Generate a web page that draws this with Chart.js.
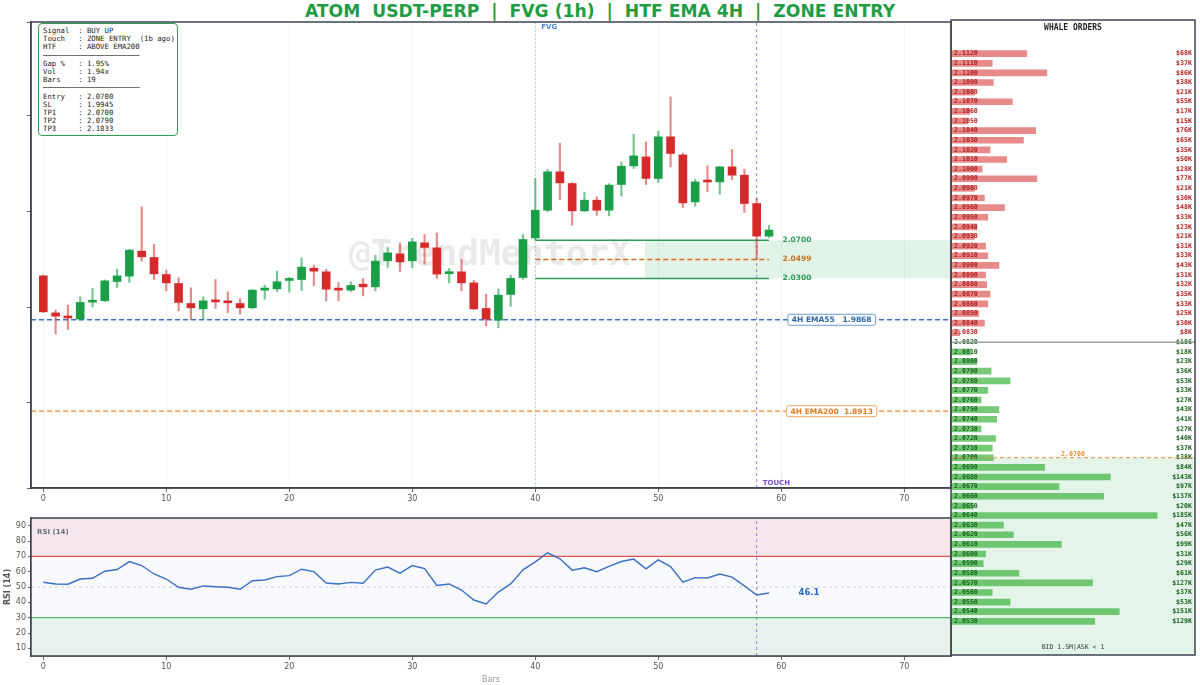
<!DOCTYPE html>
<html>
<head>
<meta charset="utf-8">
<script src="https://cdn.jsdelivr.net/npm/chart.js@4.4.1/dist/chart.umd.min.js"></script>
<style>
  body { margin: 0; background: #fff; width: 1200px; height: 685px; position: relative; overflow: hidden; font-family: "DejaVu Sans", sans-serif; }
  canvas { position: absolute; }
  #title { position: absolute; top: 1px; left: 0; width: 1200px; text-align: center; font-weight: bold; font-size: 17.2px; color: #1f9d45; white-space: pre; }
  #info { position: absolute; left: 38px; top: 23px; width: 140px; height: 113px; box-sizing: border-box; border: 1.3px solid #2e9e52; border-radius: 4px; background: #fff;
          font: 7.3px/8.2px "DejaVu Sans Mono", monospace; color: #222; padding: 3px 0 0 4px; white-space: pre; margin: 0; }
</style>
</head>
<body>
<div id="title">ATOM  USDT-PERP  |  FVG (1h)  |  HTF EMA 4H  |  ZONE ENTRY</div>
<canvas id="main" width="952" height="508" style="left:0;top:0"></canvas>
<canvas id="rsi" width="952" height="185" style="left:0;top:500px"></canvas>
<canvas id="whale" width="247" height="640" style="left:950px;top:18px"></canvas>
<pre id="info">Signal  : BUY UP
Touch   : ZONE ENTRY  (1b ago)
HTF     : ABOVE EMA200
──────────────────────
Gap %   : 1.95%
Vol     : 1.94x
Bars    : 19
──────────────────────
Entry   : 2.0700
SL      : 1.9945
TP1     : 2.0700
TP2     : 2.0790
TP3     : 2.1833</pre>
<script>
// ─── Candles (1h) ─────────────────────────────────────────────────────────────
const opens = [2.0327,1.9940,1.9899,1.9875,2.0052,2.0068,2.0268,2.0324,2.0585,2.0519,
  2.0341,2.0247,2.0038,1.9982,2.0073,2.0062,2.0038,1.9993,2.0178,2.0191,
  2.0279,2.0289,2.0407,2.0369,2.0188,2.0178,2.0240,2.0212,2.0484,2.0557,
  2.0484,2.0672,2.0620,2.0350,2.0369,2.0254,1.9986,1.9864,2.0133,2.0310,
  2.0724,2.1013,2.1414,2.1292,2.1006,2.1118,2.1013,2.1282,2.1476,2.1570,
  2.1345,2.1780,2.1591,2.1100,2.1318,2.1309,2.1466,2.1379,2.1083,2.0742];
const highs = [2.0335,1.9969,2.0021,2.0108,2.0195,2.0285,2.0397,2.0606,2.1048,2.0655,
  2.0387,2.0306,2.0202,2.0108,2.0289,2.0160,2.0091,2.0185,2.0230,2.0376,
  2.0310,2.0515,2.0439,2.0397,2.0258,2.0265,2.0300,2.0543,2.0624,2.0672,
  2.0718,2.0759,2.0776,2.0404,2.0498,2.0282,2.0136,2.0191,2.0334,2.0759,
  2.1345,2.1439,2.1713,2.1300,2.1202,2.1153,2.1290,2.1518,2.1808,2.1728,
  2.1839,2.2197,2.1610,2.1334,2.1476,2.1470,2.1648,2.1442,2.1136,2.0857];
const lows = [1.9945,1.9718,1.9767,1.9864,2.0003,2.0058,2.0206,2.0258,2.0481,2.0289,
  2.0170,1.9961,1.9871,1.9871,1.9986,1.9940,1.9927,1.9985,2.0083,2.0163,
  2.0157,2.0174,2.0227,2.0066,2.0066,2.0163,2.0118,2.0170,2.0415,2.0369,
  2.0411,2.0449,2.0300,2.0254,2.0170,1.9975,1.9805,1.9784,2.0010,2.0290,
  2.0700,2.0996,2.1125,2.0857,2.1000,2.0961,2.0954,2.1160,2.1449,2.1282,
  2.1303,2.1466,2.1041,2.1055,2.1205,2.1181,2.1334,2.0989,2.0499,2.0728];
const closes = [1.9951,1.9906,1.9887,2.0049,2.0070,2.0275,2.0327,2.0596,2.0526,2.0348,
  2.0254,2.0049,1.9993,2.0066,2.0055,2.0045,1.9993,2.0178,2.0191,2.0265,
  2.0292,2.0418,2.0376,2.0188,2.0178,2.0227,2.0212,2.0481,2.0567,2.0473,
  2.0682,2.0624,2.0345,2.0362,2.0254,1.9982,1.9875,2.0125,2.0300,2.0707,
  2.1013,2.1414,2.1299,2.1006,2.1118,2.1013,2.1275,2.1473,2.1581,2.1345,
  2.1780,2.1606,2.1090,2.1309,2.1308,2.1466,2.1379,2.1083,2.0742,2.0805];

// RSI(14) per bar
const rsi = [53.1,52.0,51.8,55.2,55.7,60.3,61.4,66.6,64.0,58.5,
  55.2,49.8,48.5,50.7,50.2,49.8,48.5,54.1,54.6,56.8,
  57.4,61.6,60.0,52.6,52.0,53.0,52.5,61.0,63.0,59.0,
  64.0,62.0,51.0,52.0,48.0,41.5,38.9,46.7,52.0,61.2,
  66.4,72.3,68.4,61.0,62.5,60.0,63.5,66.6,68.2,61.8,
  67.7,63.3,53.1,56.1,55.9,58.5,56.4,50.7,44.8,46.1];

// Levels
const ZONE_TOP = 2.0700, ZONE_MID = 2.0499, ZONE_BOT = 2.0300;
const EMA55 = 1.9868, EMA200 = 1.8913;
const FVG_BAR = 40, TOUCH_BAR = 58, ZONE_END_BAR = 59, ZONE_FILL_FROM = 48.9;
const X_MIN = -1, X_MAX = 73.8, Y_MIN = 1.811, Y_MAX = 2.298;
const X_TICKS = [0, 10, 20, 30, 40, 50, 60, 70];

// Whale order book (price, $K)
const askPrices = [2.1120,2.1110,2.1100,2.1090,2.1080,2.1070,2.1060,2.1050,2.1040,2.1030,
  2.1020,2.1010,2.1000,2.0990,2.0980,2.0970,2.0960,2.0950,2.0940,2.0930,
  2.0920,2.0910,2.0900,2.0890,2.0880,2.0870,2.0860,2.0850,2.0840,2.0830];
const askVals = [68,37,86,38,21,55,17,15,76,65,35,50,28,77,21,30,48,33,23,21,31,33,43,31,32,35,33,25,30,8];
const bidPrices = [2.0820,2.0810,2.0800,2.0790,2.0780,2.0770,2.0760,2.0750,2.0740,2.0730,
  2.0720,2.0710,2.0700,2.0690,2.0680,2.0670,2.0660,2.0650,2.0640,2.0630,
  2.0620,2.0610,2.0600,2.0590,2.0580,2.0570,2.0560,2.0550,2.0540,2.0530];
const bidVals = [0.186,18,23,36,53,33,27,43,41,27,40,37,38,84,143,97,137,20,185,47,56,99,31,29,61,127,37,53,151,129];
const MID_PRICE = 2.0820;

const GREEN = '#1b9e48', RED = '#d62a2a';
const FRAME = '#3d4450';
const MONO = '"DejaVu Sans Mono", monospace';
const SANS = '"DejaVu Sans", sans-serif';

const bars = opens.map((_, i) => i);
const isUp = i => closes[i] >= opens[i];

// ─── Shared helpers ───────────────────────────────────────────────────────────
function hLine(y, x0, x1, color, width, dash, order) {
  return { type: 'line', data: [{ x: x0, y }, { x: x1, y }], borderColor: color, borderWidth: width,
    borderDash: dash || [], pointRadius: 0, fill: false, order: order ?? 5 };
}
function vLine(x, y0, y1, color, width, dash, order) {
  return { type: 'line', data: [{ x, y: y0 }, { x, y: y1 }], borderColor: color, borderWidth: width,
    borderDash: dash || [], pointRadius: 0, fill: false, order: order ?? 5 };
}
const framePlugin = {
  id: 'frame',
  afterDraw(c) {
    const a = c.chartArea, ctx = c.ctx;
    ctx.save();
    ctx.strokeStyle = FRAME; ctx.lineWidth = 1.5;
    ctx.strokeRect(a.left, a.top, a.right - a.left, a.bottom - a.top);
    ctx.restore();
  }
};
function xScaleOpts(extra) {
  return Object.assign({
    type: 'linear', min: X_MIN, max: X_MAX, offset: false,
    afterBuildTicks: s => { s.ticks = X_TICKS.map(v => ({ value: v })); },
    ticks: { color: '#555', font: { size: 8, family: SANS }, maxRotation: 0, padding: 2 },
    grid: { offset: false, color: 'rgba(120,140,170,0.10)', tickLength: 4, tickColor: '#666' },
    border: { color: FRAME, width: 1.5 }
  }, extra);
}

// ─── Main price chart ─────────────────────────────────────────────────────────
const mainLabels = {
  id: 'mainLabels',
  beforeDatasetsDraw(c) {
    const { x, y } = c.scales, ctx = c.ctx;
    ctx.save();
    ctx.font = 'bold 36px ' + MONO;
    ctx.fillStyle = 'rgba(0,0,0,0.085)';
    ctx.textAlign = 'center'; ctx.textBaseline = 'middle';
    ctx.fillText('@TrendMentorX', x.getPixelForValue(36.3), y.getPixelForValue(2.0543));
    ctx.restore();
  },
  afterDatasetsDraw(c) {
    const { x, y } = c.scales, ctx = c.ctx;
    ctx.save();
    ctx.textBaseline = 'middle';
    ctx.font = 'bold 7.5px ' + SANS;
    const lx = x.getPixelForValue(ZONE_END_BAR + 1.1);
    ctx.fillStyle = '#2a9d55'; ctx.fillText(ZONE_TOP.toFixed(4), lx, y.getPixelForValue(ZONE_TOP));
    ctx.fillStyle = '#c8701c'; ctx.fillText(ZONE_MID.toFixed(4), lx, y.getPixelForValue(ZONE_MID));
    ctx.fillStyle = '#2a9d55'; ctx.fillText(ZONE_BOT.toFixed(4), lx, y.getPixelForValue(ZONE_BOT));

    // EMA boxes
    [[`4H EMA55   ${EMA55.toFixed(4)}`, EMA55, '#2d63a8', '#6a9ad6'],
     [`4H EMA200  ${EMA200.toFixed(4)}`, EMA200, '#e07b20', '#f0a866']].forEach(([t, v, col, bd]) => {
      ctx.font = 'bold 7.5px ' + SANS;
      const w = ctx.measureText(t).width + 8, h = 11;
      const cx = x.getPixelForValue(64.1), cy = y.getPixelForValue(v);
      ctx.fillStyle = '#fff'; ctx.strokeStyle = bd; ctx.lineWidth = 1;
      ctx.beginPath(); ctx.roundRect(cx - w / 2, cy - h / 2, w, h, 2); ctx.fill(); ctx.stroke();
      ctx.fillStyle = col; ctx.textAlign = 'center';
      ctx.fillText(t, cx, cy + 0.5);
      ctx.textAlign = 'left';
    });

    ctx.font = 'bold 7px ' + SANS;
    ctx.fillStyle = '#4a86d8';
    ctx.fillText('FVG', x.getPixelForValue(FVG_BAR) + 6, c.chartArea.top + 5);
    ctx.fillStyle = '#7b4fc9';
    ctx.fillText('TOUCH', x.getPixelForValue(TOUCH_BAR) + 6, c.chartArea.bottom - 5);
    ctx.restore();
  }
};

new Chart(document.getElementById('main'), {
  type: 'bar',
  data: {
    datasets: [
      { type: 'line', data: [{ x: ZONE_FILL_FROM, y: ZONE_TOP }, { x: X_MAX, y: ZONE_TOP }],
        fill: { value: ZONE_BOT }, backgroundColor: 'rgba(46,170,80,0.14)', borderWidth: 0, pointRadius: 0, order: 9 },
      vLine(FVG_BAR, Y_MIN, Y_MAX, 'rgba(120,170,225,0.55)', 1, [2, 2], 8),
      hLine(EMA55, X_MIN, X_MAX, '#3d74b8', 1.4, [5, 3], 6),
      hLine(EMA200, X_MIN, X_MAX, '#ee8a2e', 1.4, [5, 3], 6),
      hLine(ZONE_TOP, FVG_BAR, ZONE_END_BAR, '#2a9d55', 1.5, null, 4),
      hLine(ZONE_MID, FVG_BAR, ZONE_END_BAR, '#d0701e', 1.5, [5, 3], 4),
      hLine(ZONE_BOT, FVG_BAR, ZONE_END_BAR, '#2a9d55', 1.5, null, 4),
      vLine(TOUCH_BAR, Y_MIN, Y_MAX, 'rgba(130,100,210,0.8)', 1, [3, 3], 3),
      { label: 'wick', data: bars.map(i => ({ x: i, y: [lows[i], highs[i]] })),
        backgroundColor: bars.map(i => isUp(i) ? 'rgba(27,158,72,0.6)' : 'rgba(214,42,42,0.55)'),
        barThickness: 1.5, grouped: false, order: 2 },
      { label: 'body', data: bars.map(i => ({ x: i, y: [Math.min(opens[i], closes[i]), Math.max(opens[i], closes[i])] })),
        backgroundColor: bars.map(i => isUp(i) ? GREEN : RED),
        barThickness: 8, minBarLength: 2, grouped: false, order: 1 }
    ]
  },
  options: {
    animation: false, responsive: false,
    layout: { padding: { top: 22, right: 1, left: 0, bottom: 0 } },
    plugins: { legend: { display: false }, tooltip: { enabled: false } },
    scales: {
      x: xScaleOpts({ afterFit: s => { s.height = 20; } }),
      y: { min: Y_MIN, max: Y_MAX,
        ticks: { stepSize: 0.1, callback: () => '', padding: 0 },
        grid: { drawOnChartArea: false, tickLength: 4, tickColor: '#666' },
        border: { color: FRAME, width: 1.5 },
        afterFit: s => { s.width = 31; } }
    }
  },
  plugins: [mainLabels, framePlugin]
});

// ─── RSI panel ────────────────────────────────────────────────────────────────
const rsiBands = {
  id: 'rsiBands',
  beforeDatasetsDraw(c) {
    const { y } = c.scales, a = c.chartArea, ctx = c.ctx;
    const band = (v0, v1, col) => {
      const t = y.getPixelForValue(v1), b = y.getPixelForValue(v0);
      ctx.fillStyle = col; ctx.fillRect(a.left, t, a.right - a.left, b - t);
    };
    ctx.save();
    band(70, 95, '#f5e7eb');
    band(30, 70, '#f7f9fc');
    band(5, 30, '#e8f2ed');
    ctx.restore();
  },
  afterDatasetsDraw(c) {
    const { x, y } = c.scales, ctx = c.ctx, a = c.chartArea;
    ctx.save();
    ctx.font = 'bold 7px ' + SANS; ctx.fillStyle = '#6a7080'; ctx.textBaseline = 'middle';
    ctx.fillText('RSI (14)', a.left + 6, a.top + 14);
    const last = rsi.length - 1;
    ctx.font = 'bold 8.5px ' + SANS; ctx.fillStyle = '#2a66c8';
    ctx.fillText(rsi[last].toFixed(1), x.getPixelForValue(last + 2.4), y.getPixelForValue(rsi[last]));
    ctx.restore();
  }
};

new Chart(document.getElementById('rsi'), {
  type: 'line',
  data: {
    datasets: [
      hLine(70, X_MIN, X_MAX, '#d9534f', 1.2, null, 5),
      hLine(30, X_MIN, X_MAX, '#4cbb6c', 1.2, null, 5),
      hLine(50, X_MIN, X_MAX, 'rgba(150,150,160,0.5)', 0.8, [3, 3], 5),
      vLine(TOUCH_BAR, 5, 95, 'rgba(130,100,210,0.8)', 1, [3, 3], 4),
      { data: bars.map(i => ({ x: i, y: rsi[i] })), borderColor: '#3b6fc6', borderWidth: 1.4,
        pointRadius: 0, tension: 0, fill: false, order: 1 }
    ]
  },
  options: {
    animation: false, responsive: false,
    layout: { padding: { top: 18, right: 1, left: 0, bottom: 0 } },
    plugins: { legend: { display: false }, tooltip: { enabled: false } },
    scales: {
      x: xScaleOpts({ title: { display: true, text: 'Bars', color: '#999', font: { size: 8, family: SANS }, padding: 0 },
        afterFit: s => { s.height = 29; } }),
      y: { min: 5, max: 95,
        afterBuildTicks: s => { s.ticks = [10, 20, 30, 40, 50, 60, 70, 80, 90].map(v => ({ value: v })); },
        ticks: { color: '#555', font: { size: 8, family: SANS }, padding: 2 },
        title: { display: true, text: 'RSI (14)', color: '#555', font: { size: 8, weight: 'bold', family: SANS }, padding: { top: 3, bottom: 0 } },
        grid: { drawOnChartArea: false, tickLength: 3, tickColor: '#666' },
        border: { color: FRAME, width: 1.5 },
        afterFit: s => { s.width = 31; } }
    }
  },
  plugins: [rsiBands, framePlugin]
});

// ─── Whale orders ─────────────────────────────────────────────────────────────
const fmtK = v => v >= 1 ? `$${Math.round(v)}K` : `$${Math.round(v * 1000)}`;
const whaleText = {
  id: 'whaleText',
  beforeDatasetsDraw(c) {
    const { y } = c.scales, a = c.chartArea, ctx = c.ctx;
    ctx.save();
    const t = Math.max(a.top, y.getPixelForValue(ZONE_TOP));
    const b = Math.min(a.bottom, y.getPixelForValue(ZONE_BOT));
    ctx.fillStyle = 'rgba(46,170,80,0.13)';
    ctx.fillRect(a.left, t, a.right - a.left, b - t);
    ctx.restore();
  },
  afterDatasetsDraw(c) {
    const { y } = c.scales, a = c.chartArea, ctx = c.ctx;
    ctx.save();
    ctx.textBaseline = 'middle';
    ctx.font = 'bold 6.6px ' + MONO;
    askPrices.forEach((p, i) => {
      const py = y.getPixelForValue(p);
      ctx.fillStyle = '#b01c1c';
      ctx.textAlign = 'left'; ctx.fillText(p.toFixed(4), a.left + 3, py);
      ctx.textAlign = 'right'; ctx.fillText(fmtK(askVals[i]), a.right - 3, py);
    });
    bidPrices.forEach((p, i) => {
      const py = y.getPixelForValue(p);
      ctx.fillStyle = '#17601f';
      ctx.textAlign = 'left'; ctx.fillText(p.toFixed(4), a.left + 3, py);
      ctx.textAlign = 'right'; ctx.fillText(fmtK(bidVals[i]), a.right - 3, py);
    });
    // mid price
    const my = y.getPixelForValue(MID_PRICE);
    ctx.strokeStyle = '#a0a0a0'; ctx.lineWidth = 1.5;
    ctx.beginPath(); ctx.moveTo(a.left, my); ctx.lineTo(a.right, my); ctx.stroke();
    // entry line
    const ey = y.getPixelForValue(ZONE_TOP);
    ctx.strokeStyle = '#ee8a2e'; ctx.lineWidth = 1.2; ctx.setLineDash([4, 3]);
    ctx.beginPath(); ctx.moveTo(a.left, ey); ctx.lineTo(a.right, ey); ctx.stroke();
    ctx.setLineDash([]);
    ctx.fillStyle = '#ee8a2e'; ctx.textAlign = 'center';
    ctx.fillText(ZONE_TOP.toFixed(4), (a.left + a.right) / 2, ey - 3.5);
    // title + footer
    ctx.fillStyle = '#222'; ctx.font = 'bold 8px ' + MONO;
    ctx.fillText('WHALE ORDERS', (a.left + a.right) / 2, a.top + 8);
    ctx.font = '6.5px ' + MONO; ctx.fillStyle = '#333';
    ctx.fillText('BID 1.5M|ASK < 1', (a.left + a.right) / 2, a.bottom - 8);
    ctx.restore();
  }
};

new Chart(document.getElementById('whale'), {
  type: 'bar',
  data: {
    datasets: [
      { data: askPrices.map((p, i) => ({ x: askVals[i], y: p })), backgroundColor: 'rgba(214,60,60,0.6)',
        barThickness: 6, grouped: false },
      { data: bidPrices.map((p, i) => ({ x: bidVals[i], y: p })), backgroundColor: 'rgba(60,180,60,0.7)',
        barThickness: 6, grouped: false }
    ]
  },
  options: {
    indexAxis: 'y', animation: false, responsive: false,
    layout: { padding: { top: 2, right: 2, left: 1, bottom: 3 } },
    plugins: { legend: { display: false }, tooltip: { enabled: false } },
    scales: {
      x: { type: 'linear', min: 0, max: 219, display: false },
      y: { type: 'linear', min: 2.0495, max: 2.1155, offset: false, display: false }
    }
  },
  plugins: [whaleText, framePlugin]
});
</script>
</body>
</html>
